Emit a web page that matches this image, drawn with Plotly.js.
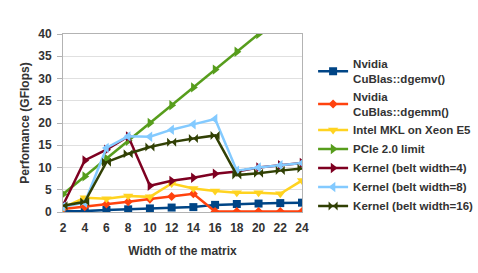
<!DOCTYPE html>
<html><head><meta charset="utf-8">
<script src="https://cdn.plot.ly/plotly-3.0.1.min.js"></script>
<style>html,body{margin:0;padding:0;background:#fff}#c{width:478px;height:273px}</style>
</head><body><div id="c"></div>
<script>
const widths = [2,4,6,8,10,12,14,16,18,20,22,24];
const pcieWidths = [2,4,6,8,10,12,14,16,18,20];
const dgemv = [0.15,0.2,0.45,0.6,0.8,1.0,1.1,1.6,1.8,1.9,2.0,2.1];
const dgemm = [0.7,1.2,1.8,2.3,2.9,3.5,4.1,0.1,0.1,0.1,0.1,0.1];
const mkl = [1.0,3.2,3.0,3.6,3.4,6.4,5.3,4.7,4.3,4.3,4.1,7.1];
const pcie = [4,8,12,16,20,24,28,32,36,40];
const kernel4 = [1.5,11.6,14.0,17.0,5.9,7.0,7.7,8.6,9.1,10.0,10.5,11.0];
const kernel8 = [1.2,2.1,14.4,17.0,16.9,18.5,19.7,20.9,9.3,10.0,10.5,11.0];
const kernel16 = [1.4,2.3,11.2,13.1,14.6,15.7,16.5,17.2,8.3,8.7,9.3,9.8];
const names = ["Nvidia<br>CuBlas::dgemv()","Nvidia<br>CuBlas::dgemm()","Intel MKL on Xeon E5","PCIe 2.0 limit","Kernel (belt width=4)","Kernel (belt width=8)","Kernel (belt width=16)"];

const mk = (x,y,name,color,symbol,size) => ({x:x,y:y,name:name,type:'scatter',mode:'lines+markers',
  line:{color:color,width:2.5},marker:{color:color,symbol:symbol,size:size}});
const data = [
  mk(widths,dgemv,names[0],'#004586','square',8),
  mk(widths,dgemm,names[1],'#ff420e','diamond',7),
  mk(widths,mkl,names[2],'#ffd320','triangle-down',9),
  mk(pcieWidths,pcie,names[3],'#579d1c','triangle-right',9),
  mk(widths,kernel4,names[4],'#7e0021','triangle-right',9),
  mk(widths,kernel8,names[5],'#83caff','triangle-left',9),
  mk(widths,kernel16,names[6],'#314004','bowtie',9)
];
const fam = 'Liberation Sans, Arial, sans-serif';
const tickFont = {family:fam,size:12,color:'#333',weight:'bold'};
const layout = {
  width:478,height:273,
  margin:{l:63,r:176,t:34,b:61},
  paper_bgcolor:'#fff',plot_bgcolor:'#fff',
  showlegend:true,
  legend:{xref:'container',yref:'container',x:0.655,y:0.818,yanchor:'top',xanchor:'left',maxheight:220,
    font:{family:fam,size:11.5,color:'#333',weight:'bold'},
    itemwidth:30,tracegroupgap:0,bgcolor:'rgba(0,0,0,0)'},
  xaxis:{range:[2,24],tickvals:widths,ticktext:widths.map(String),tickfont:tickFont,showgrid:false,
    showline:true,linecolor:'#b3b3b3',mirror:true,zeroline:false,ticks:'',ticklabelstandoff:5,
    title:{text:'Width of the matrix',font:tickFont,standoff:12}},
  yaxis:{range:[0,40],dtick:5,tickfont:tickFont,showgrid:true,gridcolor:'#e0e0e0',
    showline:true,linecolor:'#b3b3b3',mirror:true,zeroline:false,ticks:'outside',ticklen:5,tickcolor:'#b3b3b3',ticklabelstandoff:3,
    title:{text:'Perfomance (GFlops)',font:tickFont,standoff:6}}
};
Plotly.newPlot('c',data,layout,{displayModeBar:false,staticPlot:true});
</script></body></html>
